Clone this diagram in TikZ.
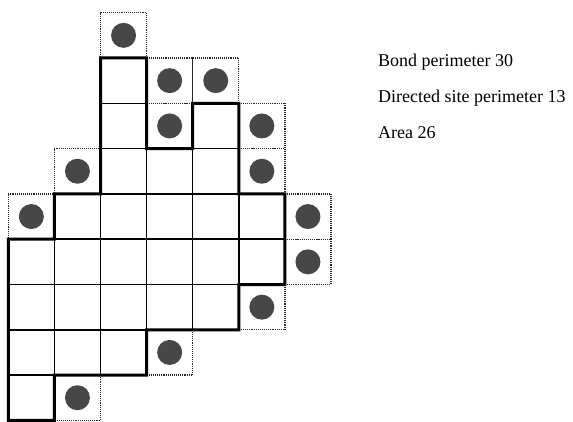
\documentclass[tikz,border=0pt]{standalone}
\usepackage{fontspec}
\setmainfont{Liberation Serif}
\begin{document}
\begin{tikzpicture}[x=1pt,y=-1pt,
  cellbox/.style={draw=black,line width=1.4pt,rectangle,minimum width=46.1pt,minimum height=45.3pt,inner sep=0pt,outer sep=0pt},
  dotcell/.style={draw=black!85,line width=1.3pt,dash pattern=on 1.1pt off 1pt,rectangle,minimum width=46.1pt,minimum height=45.3pt,inner sep=0pt,outer sep=0pt},
  site/.style={circle,fill=black!72,minimum size=25pt,inner sep=0pt},
  boldline/.style={line width=3pt,line join=miter},
  label/.style={anchor=base west,inner sep=0pt,font=\fontsize{18}{20}\selectfont}]
\useasboundingbox (0,0) rectangle (573,422);
\def\cw{46.1}\def\ch{45.3}\def\xo{8.3}\def\yo{12.7}
% perimeter sites (dotted cells with dots)
\foreach \c/\r in {2/0,3/1,4/1,3/2,5/2,1/3,5/3,0/4,6/4,6/5,5/6,3/7,1/8}{
  \node[dotcell] (d-\c-\r) at ({\xo+(\c+0.5)*\cw},{\yo+(\r+0.5)*\ch}) {};
  \node[site] (s-\c-\r) at (d-\c-\r.center) {};
}
% polygon cells
\foreach \c/\r in {2/1,2/2,4/2,2/3,3/3,4/3,1/4,2/4,3/4,4/4,5/4,0/5,1/5,2/5,3/5,4/5,5/5,0/6,1/6,2/6,3/6,4/6,0/7,1/7,2/7,0/8}{
  \node[cellbox] (p-\c-\r) at ({\xo+(\c+0.5)*\cw},{\yo+(\r+0.5)*\ch}) {};
}
% bold outline (bond perimeter)
\draw[boldline] (p-2-1.north west) -- (p-2-1.north east) -- (p-2-2.south east)
  -- (p-4-2.south west) -- (p-4-2.north west) -- (p-4-2.north east)
  -- (p-4-3.south east) -- (p-5-4.north east) -- (p-5-5.south east)
  -- (p-4-6.north east) -- (p-4-6.south east) -- (p-2-7.north east)
  -- (p-2-7.south east) -- (p-0-8.north east) -- (p-0-8.south east)
  -- (p-0-8.south west) -- (p-0-5.north west) -- (p-1-4.south west)
  -- (p-1-4.north west) -- (p-1-4.north east) -- cycle;
% labels
\node[label] (t1) at (378,66.7) {Bond perimeter 30};
\node[label] (t2) at (378,103) {Directed site perimeter 13};
\node[label] (t3) at (378,139) {Area 26};
\end{tikzpicture}
\end{document}
